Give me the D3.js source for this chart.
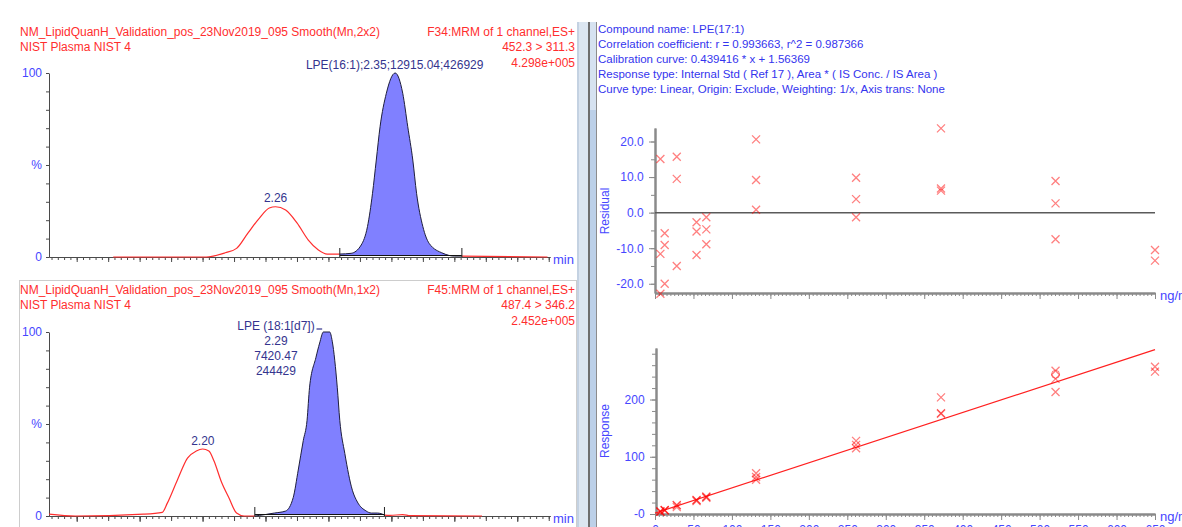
<!DOCTYPE html>
<html>
<head>
<meta charset="utf-8">
<script src="https://cdn.jsdelivr.net/npm/d3@7"></script>
<style>
	body { margin: 0; background: #fff; }
	svg { display: block; font-family: "Liberation Sans", Arial, sans-serif; font-size: 12px; }
</style>
</head>
<body>
<svg id="plot" width="1182" height="527"></svg>
<script>
function whenDocumentLoaded(action) {
	if (document.readyState === "loading") {
		document.addEventListener("DOMContentLoaded", action);
	} else {
		action();
	}
}

/* chromatogram 1 : LPE(16:1) */
const TOP_TIMES = [2.129, 2.203, 2.218, 2.227, 2.236, 2.245, 2.253, 2.258, 2.266, 2.275, 2.284, 2.292, 2.299, 2.309,
	2.318, 2.326, 2.331, 2.335, 2.338, 2.341, 2.346, 2.353, 2.359, 2.363, 2.367, 2.370, 2.375, 2.380, 2.391, 2.400, 2.406, 2.474];
const TOP_INTENSITY = [0, 0, 2.3, 4.7, 13, 21, 26.6, 27.3, 25.5, 18.5, 9.2, 3.8, 1.6, 1.6,
	2, 6.5, 16.5, 34.6, 52.7, 70.8, 89, 100, 89, 70.8, 52.7, 34.6, 16.5, 7.4, 2, 0.5, 0.5, 0];
const TOP_INTEGRATION = [2.309, 2.406];

/* chromatogram 2 : LPE(18:1[d7]) */
const BOTTOM_TIMES = [2.078, 2.099, 2.153, 2.168, 2.172, 2.180, 2.188, 2.195, 2.200, 2.205, 2.209, 2.215, 2.221, 2.227, 2.233, 2.2415,
	2.245, 2.257, 2.266, 2.272, 2.276, 2.280, 2.283, 2.285, 2.290, 2.293, 2.296, 2.301, 2.303, 2.307, 2.309, 2.313, 2.319, 2.323,
	2.330, 2.334, 2.339, 2.3445, 2.349, 2.359, 2.365, 2.422];
const BOTTOM_INTENSITY = [1, 0, 1, 2, 7, 19.6, 31.5, 35.3, 36.4, 35.3, 30, 18.5, 9.8, 1.6, 0, 0,
	0.3, 1.6, 2.7, 10, 25, 41, 52, 70, 86, 94, 100, 100, 95, 70, 52, 34, 14, 7.6,
	2.7, 1.6, 1.6, 0.5, 0.3, 0.8, 0.2, 0];
const BOTTOM_INTEGRATION = [2.2415, 2.3445];

const TIME_DOMAIN = [2.078, 2.476];
const TIME_LABELS = ['2.100', '2.150', '2.200', '2.250', '2.300', '2.350', '2.400', '2.450'];
const PCT_LABELS = ['0', '%', '100'];
const PCT_LABEL_VALUES = [0, 50, 100];

/* calibration */
const CONC = [7, 7, 7, 12.6, 12.6, 12.6, 28.3, 28.3, 28.3, 54, 54, 54, 66.7, 66.7, 66.7,
	131.4, 131.4, 131.4, 261.4, 261.4, 261.4, 371.8, 371.8, 371.8, 520.7, 520.7, 520.7, 650, 650];
const RESIDUAL = [15.1, -11.6, -22.8, -5.8, -9.1, -20.0, 15.7, 9.5, -15.0, -2.7, -5.3, -11.9, -1.3, -4.7, -8.9,
	20.6, 9.2, 0.8, 9.8, 3.8, -1.3, 23.7, 6.8, 6.2, 8.9, 2.6, -7.5, -10.5, -13.5];
const RESPONSE = [4.85, 4.09, 3.77, 6.94, 6.76, 6.13, 15.8, 15.0, 12.0, 24.7, 24.0, 22.5, 30.5, 29.5, 28.3,
	71.2, 64.6, 59.8, 127.7, 120.8, 114.9, 203.8, 176.2, 175.2, 250.4, 236.0, 213.0, 257.2, 248.7];
const FLAG_CONC = [520.7];
const FLAG_RESPONSE = [244];
const SLOPE = 0.439416;
const INTERCEPT = 1.56369;
const CONC_DOMAIN = [0, 650];
const CONC_LABELS = ['0', '50', '100', '150', '200', '250', '300', '350', '400', '450', '500', '550', '600', '650'];
const RESID_DOMAIN = [-22.6, 23.8];
const RESID_LABELS = ['-20.0', '-10.0', '0.0', '10.0', '20.0'];
const RESPONSE_DOMAIN = [0, 290];
const RESPONSE_LABELS = ['-0', '100', '200'];

const HEADER_RIGHT = [
	'Compound name: LPE(17:1)',
	'Correlation coefficient: r = 0.993663, r^2 = 0.987366',
	'Calibration curve: 0.439416 * x + 1.56369',
	'Response type: Internal Std ( Ref 17 ), Area * ( IS Conc. / IS Area )',
	'Curve type: Linear, Origin: Exclude, Weighting: 1/x, Axis trans: None'
];

const RED = '#ff2e2e';
const TICK_BLUE = '#4646ff';
const PEAK_BLUE = '#34348e';

class Chromatogram {
	constructor(svg, top, bottom) {
		this.svg = svg;
		this.x = d3.scaleLinear().domain(TIME_DOMAIN).range([49, 550]);
		this.y = d3.scaleLinear().domain([0, 100]).range([bottom, top]);
	}

	header(left, right, top) {
		const g = this.svg.append('g').attr('fill', RED);
		left.forEach((t, i) => g.append('text').attr('x', 20).attr('y', top + i * 15.3)
			.attr('dominant-baseline', 'central').text(t));
		right.forEach((t, i) => g.append('text').attr('x', 575).attr('y', top + i * 15.3)
			.attr('text-anchor', 'end').attr('dominant-baseline', 'central').text(t));
	}

	axes(withLabels) {
		const x = this.x, y = this.y, svg = this.svg;
		const y0 = y(0);
		const minor = d3.range(416, 496).map(i => i / 200);
		const major = d3.range(84, 100).map(i => i / 40);
		svg.append('g').attr('transform', `translate(0,${y0})`)
			.call(d3.axisBottom(x).tickValues(minor).tickSize(3).tickSizeOuter(0).tickFormat(''));
		svg.append('g').attr('transform', `translate(0,${y0})`)
			.call(d3.axisBottom(x).tickValues(major).tickSize(5).tickSizeOuter(0).tickFormat(''));
		if (withLabels) {
			svg.append('g').attr('transform', `translate(0,${y0})`)
				.call(d3.axisBottom(x).tickValues(TIME_LABELS.map(Number)).tickSize(6).tickSizeOuter(0)
					.tickFormat((d, i) => TIME_LABELS[i]))
				.selectAll('text').attr('fill', TICK_BLUE).attr('font-size', 12).attr('dy', '0.9em');
		}
		svg.append('g').attr('transform', 'translate(49,0)')
			.call(d3.axisLeft(y).tickValues(d3.range(0, 101, 10)).tickSize(3).tickSizeOuter(0).tickFormat(''));
		svg.selectAll('.domain, .tick line').attr('stroke', '#4a4a4a');
		PCT_LABELS.forEach((t, i) => svg.append('text')
			.attr('x', 42).attr('y', y(PCT_LABEL_VALUES[i]))
			.attr('text-anchor', 'end').attr('dominant-baseline', 'central')
			.attr('fill', TICK_BLUE).text(t));
		svg.append('text').attr('x', 553).attr('y', y0 + 2).attr('dominant-baseline', 'central')
			.attr('fill', TICK_BLUE).attr('font-size', 13).text('min');
	}

	trace(times, intensity, integration) {
		const x = this.x, y = this.y;
		const pts = times.map((t, i) => ({ t: t, v: intensity[i] }));
		const line = d3.line().x(d => x(d.t)).y(d => y(d.v)).curve(d3.curveMonotoneX);
		const [s, e] = integration;
		const before = pts.filter(d => d.t <= s);
		const inside = pts.filter(d => d.t >= s && d.t <= e);
		const after = pts.filter(d => d.t >= e);

		[before, after].forEach(seg => this.svg.append('path').attr('d', line(seg))
			.attr('fill', 'none').attr('stroke', RED).attr('stroke-width', 1.2));

		const base = y(0) - 1.5;
		this.svg.append('path')
			.attr('d', d3.area().x(d => x(d.t)).y0(base).y1(d => Math.min(y(d.v), base)).curve(d3.curveMonotoneX)(inside))
			.attr('fill', '#8080ff');
		this.svg.append('path').attr('d', line(inside))
			.attr('fill', 'none').attr('stroke', '#1e1e3c').attr('stroke-width', 1);
		this.svg.append('line').attr('x1', x(s)).attr('x2', x(e)).attr('y1', base).attr('y2', base)
			.attr('stroke', '#111').attr('stroke-width', 1);
		[s, e].forEach(t => this.svg.append('line')
			.attr('x1', x(t)).attr('x2', x(t)).attr('y1', y(0) - 9).attr('y2', y(0))
			.attr('stroke', '#222').attr('stroke-width', 1));
	}

	label(t, v, lines, fill) {
		lines.forEach((s, i) => this.svg.append('text')
			.attr('x', this.x(t)).attr('y', this.y(v) + i * 15)
			.attr('text-anchor', 'middle').attr('dominant-baseline', 'central')
			.attr('fill', fill).text(s));
	}
}

function cross(g, x, y, color, r) {
	g.append('path').attr('d', `M${x - r},${y - r}L${x + r},${y + r}M${x - r},${y + r}L${x + r},${y - r}`)
		.attr('stroke', color).attr('stroke-width', 1.3).attr('stroke-opacity', 0.5).attr('fill', 'none');
}

function drawCalibration(svg) {
	const x = d3.scaleLinear().domain(CONC_DOMAIN).range([655, 1155]);
	const yRes = d3.scaleLinear().domain(RESID_DOMAIN).range([293, 128]);
	const yResp = d3.scaleLinear().domain(RESPONSE_DOMAIN).range([514, 348]);
	const grey = '#8a8a8a';

	/* header text */
	HEADER_RIGHT.forEach((t, i) => svg.append('text').attr('x', 598).attr('y', 29 + i * 15)
		.attr('dominant-baseline', 'central').attr('font-size', 11.5).attr('fill', '#3434ee').text(t));

	/* x axes */
	[[yRes, 293, false], [yResp, 514, true]].forEach(([ys, y0, labels]) => {
		const g = svg.append('g');
		g.append('g').attr('transform', `translate(0,${y0})`)
			.call(d3.axisBottom(x).tickValues(d3.range(0, 651, 5)).tickSize(3).tickSizeOuter(0).tickFormat(''));
		g.append('g').attr('transform', `translate(0,${y0})`)
			.call(d3.axisBottom(x).tickValues(CONC_LABELS.map(Number)).tickSize(6).tickSizeOuter(0)
				.tickFormat((d, i) => labels ? CONC_LABELS[i] : ''))
			.selectAll('text').attr('fill', TICK_BLUE).attr('font-size', 12).attr('dy', '0.9em');
		g.selectAll('.domain').attr('stroke', grey).attr('stroke-width', 2);
		g.selectAll('.tick line').attr('stroke', grey);
		svg.append('text').attr('x', 1160).attr('y', y0 + 2).attr('dominant-baseline', 'central')
			.attr('fill', TICK_BLUE).attr('font-size', 13).text('ng/mL');
	});

	/* residual y axis */
	const gr = svg.append('g').attr('transform', 'translate(655,0)');
	gr.append('g').call(d3.axisLeft(yRes).tickValues(d3.range(-20, 21, 5)).tickSize(4).tickSizeOuter(0).tickFormat(''));
	gr.append('g').call(d3.axisLeft(yRes).tickValues(RESID_LABELS.map(Number)).tickSize(6).tickSizeOuter(0)
		.tickFormat((d, i) => RESID_LABELS[i]))
		.selectAll('text').attr('fill', TICK_BLUE).attr('font-size', 12).attr('dx', '-0.2em');
	gr.selectAll('.domain').attr('stroke', grey).attr('stroke-width', 2);
	gr.selectAll('.tick line').attr('stroke', grey);

	svg.append('line').attr('x1', 655).attr('x2', 1155).attr('y1', yRes(0)).attr('y2', yRes(0))
		.attr('stroke', '#5a5a5a').attr('stroke-width', 1.5);

	/* response y axis */
	const gp = svg.append('g').attr('transform', 'translate(656,0)');
	gp.append('g').call(d3.axisLeft(yResp).tickValues(d3.range(0, 281, 20)).tickSize(4).tickSizeOuter(0).tickFormat(''));
	gp.append('g').call(d3.axisLeft(yResp).tickValues([0, 100, 200]).tickSize(6).tickSizeOuter(0)
		.tickFormat((d, i) => RESPONSE_LABELS[i]))
		.selectAll('text').attr('fill', TICK_BLUE).attr('font-size', 12).attr('dx', '-0.2em');
	gp.selectAll('.domain').attr('stroke', grey).attr('stroke-width', 2);
	gp.selectAll('.tick line').attr('stroke', grey);

	/* axis titles */
	[['Residual', 211], ['Response', 431]].forEach(([t, cy]) => svg.append('text')
		.attr('transform', `translate(605,${cy}) rotate(-90)`)
		.attr('text-anchor', 'middle').attr('dominant-baseline', 'central')
		.attr('fill', TICK_BLUE).text(t));

	/* calibration line */
	svg.append('line')
		.attr('x1', x(CONC_DOMAIN[0])).attr('y1', yResp(INTERCEPT + SLOPE * CONC_DOMAIN[0]))
		.attr('x2', x(CONC_DOMAIN[1])).attr('y2', yResp(INTERCEPT + SLOPE * CONC_DOMAIN[1]))
		.attr('stroke', '#ff2020').attr('stroke-width', 1.2);

	const pts = svg.append('g');
	CONC.forEach((c, i) => {
		cross(pts, x(c), yRes(RESIDUAL[i]), '#ff0000', 4);
		cross(pts, x(c), yResp(RESPONSE[i]), '#ff0000', 4);
	});
	FLAG_CONC.forEach((c, i) => pts.append('circle').attr('cx', x(c)).attr('cy', yResp(FLAG_RESPONSE[i]))
		.attr('r', 4).attr('fill', 'none').attr('stroke', '#ff0000').attr('stroke-opacity', 0.5));
}

function drawFrame(svg) {
	/* selection box around the second chromatogram */
	svg.append('rect').attr('x', 19.5).attr('y', 280.5).attr('width', 557).attr('height', 260)
		.attr('fill', 'none').attr('stroke', '#9a9a9a').attr('stroke-dasharray', '1,1');
	/* splitter */
	svg.append('rect').attr('x', 577).attr('y', 22).attr('width', 11).attr('height', 505).attr('fill', '#dce6f1');
	svg.append('rect').attr('x', 577).attr('y', 22).attr('width', 2).attr('height', 505).attr('fill', '#c4d2e2');
	svg.append('rect').attr('x', 588).attr('y', 22).attr('width', 2).attr('height', 505).attr('fill', '#6e6e6e');
	svg.append('rect').attr('x', 590).attr('y', 22).attr('width', 6).attr('height', 505).attr('fill', '#bcd0e8');
	svg.append('rect').attr('x', 590).attr('y', 22).attr('width', 6).attr('height', 88).attr('fill', '#d6e2f0');
	svg.append('rect').attr('x', 596).attr('y', 22).attr('width', 1).attr('height', 505).attr('fill', '#8c8c8c');
}

whenDocumentLoaded(() => {
	const svg = d3.select('#plot');
	svg.append('rect').attr('width', 1182).attr('height', 527).attr('fill', '#fff');

	const top = new Chromatogram(svg, 73, 257);
	top.header(['NM_LipidQuanH_Validation_pos_23Nov2019_095 Smooth(Mn,2x2)', 'NIST Plasma NIST 4'],
		['F34:MRM of 1 channel,ES+', '452.3 > 311.3', '4.298e+005'], 32);
	top.axes(false);
	top.trace(TOP_TIMES, TOP_INTENSITY, TOP_INTEGRATION);
	top.label(2.258, 32, ['2.26'], PEAK_BLUE);
	top.label(2.3526, 104.5, ['LPE(16:1);2.35;12915.04;426929'], PEAK_BLUE);

	const bottom = new Chromatogram(svg, 332, 516);
	bottom.header(['NM_LipidQuanH_Validation_pos_23Nov2019_095 Smooth(Mn,1x2)', 'NIST Plasma NIST 4'],
		['F45:MRM of 1 channel,ES+', '487.4 > 346.2', '2.452e+005'], 290);
	bottom.axes(true);
	bottom.trace(BOTTOM_TIMES, BOTTOM_INTENSITY, BOTTOM_INTEGRATION);
	bottom.label(2.2002, 40.5, ['2.20'], PEAK_BLUE);
	bottom.label(2.2583, 103.5, ['LPE (18:1[d7])', '2.29', '7420.47', '244429'], PEAK_BLUE);
	svg.append('line').attr('x1', bottom.x(2.2905)).attr('x2', bottom.x(2.295))
		.attr('y1', 329).attr('y2', 329).attr('stroke', PEAK_BLUE).attr('stroke-width', 1.2);

	drawCalibration(svg);
	drawFrame(svg);
});
</script>
</body>
</html>
